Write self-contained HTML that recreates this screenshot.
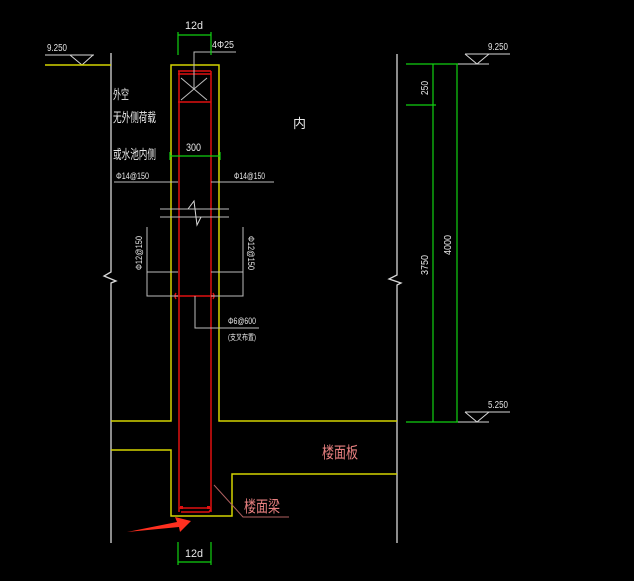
<!DOCTYPE html>
<html><head><meta charset="utf-8"><style>
html,body{margin:0;padding:0;background:#000;width:634px;height:581px;overflow:hidden}
svg{display:block}
text{font-family:"Liberation Sans","Noto Sans CJK SC",sans-serif}
</style></head><body>
<svg width="634" height="581" viewBox="0 0 634 581" xmlns="http://www.w3.org/2000/svg">
<rect width="634" height="581" fill="#000"/>
<g stroke="#d8d8d8" stroke-width="1.3" fill="none">
<path d="M111 53 V272 L104 276 L116 281 L111 283 V543"/>
<path d="M397 54 V275 L389 279 L401 283 L397 285 V543"/>
</g>
<g stroke="#d8d8d8" stroke-width="1" fill="none">
<path d="M45 55 H94 M70 55 L82 65 L93 55"/>
<path d="M465 54 H510 M465 54 L477 64 L489 54 M458 64 H489"/>
<path d="M465 412 H510 M465 412 L477 422 L489 412 M458 422 H489"/>
</g>
<text x="47" y="51" fill="#e0e0e0" font-size="10" textLength="20" lengthAdjust="spacingAndGlyphs">9.250</text>
<text x="488" y="50" fill="#e0e0e0" font-size="10" textLength="20" lengthAdjust="spacingAndGlyphs">9.250</text>
<text x="488" y="408" fill="#e0e0e0" font-size="10" textLength="20" lengthAdjust="spacingAndGlyphs">5.250</text>
<g stroke="#d4d400" stroke-width="1.5" fill="none">
<path d="M45 65 H111"/>
<path d="M111 421 H171 V65 H219 V421 H397"/>
<path d="M111 450 H171 V516 H232 V474 H397"/>
</g>
<g stroke="#e01010" stroke-width="1.5" fill="none">
<path d="M179 71 V512 M211 71 V512"/>
<path d="M178 71 H211 M178 74 H211 M178 102 H211"/>
<path d="M179 508 H211 M181 512 H209 L211 509"/>
<path d="M176 296 H213 M176 293 Q174 296 176 299 M213 293 Q215 296 213 299"/>
</g>
<g fill="#e01010"><rect x="180" y="506" width="3" height="3"/><rect x="207" y="506" width="3" height="3"/></g>
<g stroke="#bdbdbd" stroke-width="1" fill="none">
<path d="M181 78 L207 100 M207 78 L181 100"/>
<path d="M194 89 V52 H236"/>
<path d="M114 182 H178 M211 182 H274"/>
<path d="M160 209 H229 M160 217 H229"/>
<path d="M188 209 L194 201 L197 225 L201 217" stroke="#d8d8d8"/>
<path d="M147 227 V296 H178 M147 272 H178"/>
<path d="M243 227 V296 H211 M243 272 H211"/>
<path d="M195 296 V328 H259"/>
</g>
<g stroke="#10d010" stroke-width="1.2" fill="none">
<path d="M178 35 H211 M178 32 V55 M211 32 V55"/>
<path d="M170 156 H220 M170 152 V160 M220 152 V160"/>
<path d="M178 562 H211 M178 542 V565 M211 542 V565"/>
<path d="M406 64 H458 M406 105 H436 M406 422 H458 M433 64 V422 M457 64 V422"/>
</g>
<g fill="#e8e8e8">
<text x="185" y="29" font-size="11" textLength="18" lengthAdjust="spacingAndGlyphs">12d</text>
<text x="185" y="557" font-size="11" textLength="18" lengthAdjust="spacingAndGlyphs">12d</text>
<text x="212" y="48" font-size="10" textLength="22" lengthAdjust="spacingAndGlyphs">4Φ25</text>
<text x="186" y="151" font-size="11" textLength="15" lengthAdjust="spacingAndGlyphs">300</text>
<text x="113" y="99" font-size="13" textLength="16" lengthAdjust="spacingAndGlyphs">外空</text>
<text x="113" y="122" font-size="13" textLength="43" lengthAdjust="spacingAndGlyphs">无外侧荷载</text>
<text x="113" y="159" font-size="13" textLength="43" lengthAdjust="spacingAndGlyphs">或水池内侧</text>
<text x="293" y="128" font-size="13">内</text>
<text x="116" y="179" font-size="9" textLength="33" lengthAdjust="spacingAndGlyphs">Φ14@150</text>
<text x="234" y="179" font-size="9" textLength="31" lengthAdjust="spacingAndGlyphs">Φ14@150</text>
<text transform="translate(142,270) rotate(-90)" font-size="9" textLength="34" lengthAdjust="spacingAndGlyphs">Φ12@150</text>
<text transform="translate(248,236) rotate(90)" font-size="9" textLength="34" lengthAdjust="spacingAndGlyphs">Φ12@150</text>
<text x="228" y="324" font-size="9" textLength="28" lengthAdjust="spacingAndGlyphs">Φ6@600</text>
<text x="228" y="340" font-size="8" textLength="28" lengthAdjust="spacingAndGlyphs">(支叉布置)</text>
<text transform="translate(428,95) rotate(-90)" font-size="10" textLength="14" lengthAdjust="spacingAndGlyphs">250</text>
<text transform="translate(428,275) rotate(-90)" font-size="10" textLength="20" lengthAdjust="spacingAndGlyphs">3750</text>
<text transform="translate(451,255) rotate(-90)" font-size="10" textLength="20" lengthAdjust="spacingAndGlyphs">4000</text>
</g>
<g fill="#e88080" font-size="16">
<text x="322" y="458" textLength="36" lengthAdjust="spacingAndGlyphs">楼面板</text>
<text x="244" y="512" textLength="36" lengthAdjust="spacingAndGlyphs">楼面梁</text>
</g>
<path d="M214 485 L243 517 H289" stroke="#b06060" stroke-width="1" fill="none"/>
<path d="M127 532 L177 522 L175 517 L191 521 L180 532 L179 527 Z" fill="#ff3020"/>
</svg>
</body></html>
